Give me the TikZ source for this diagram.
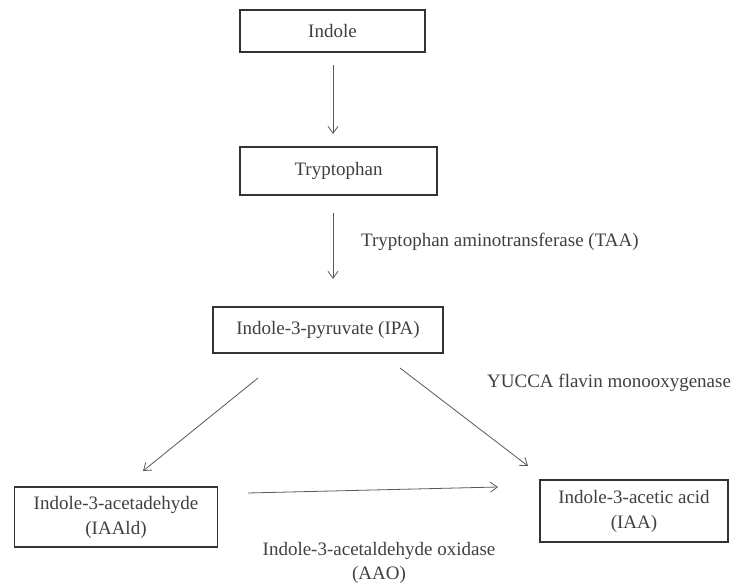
\documentclass[tikz,border=0pt]{standalone}
\usepackage{fontspec}
\setmainfont{Liberation Serif}
\usetikzlibrary{arrows.meta}
\begin{document}
\begin{tikzpicture}[x=1pt,y=-1pt,
  box/.style={draw=black!80,line width=1.8pt,inner sep=0pt,align=center,font=\fontsize{19}{25}\selectfont,text=black!75},
  lbl/.style={inner sep=0pt,align=center,font=\fontsize{19}{24}\selectfont,text=black!75},
  arr/.style={draw=black!65,line width=0.8pt,-{Straight Barb[length=7pt,width=10pt]}}]
\useasboundingbox (0,0) rectangle (734,585);
\fill[white] (0,0) rectangle (734,585);
\node[box,minimum width=185pt,minimum height=42pt] (indole) at (332.5,31) {Indole};
\node[box,minimum width=197pt,minimum height=48pt] (tryp) at (338.5,171) {Tryptophan};
\node[box,minimum width=230pt,minimum height=46pt] (ipa) at (328,330) {Indole-3-pyruvate (IPA)};
\node[box,minimum width=203pt,minimum height=60pt] (iaald) at (116,517) {Indole-3-acetadehyde\\(IAAld)};
\node[box,minimum width=188pt,minimum height=62pt] (iaa) at (634,511) {Indole-3-acetic acid\\(IAA)};
\node[lbl,anchor=west] (taa) at (361,242) {Tryptophan aminotransferase (TAA)};
\node[lbl,anchor=west] (yucca) at (487,383) {YUCCA flavin monooxygenase};
\node[lbl] (aao) at (379,563) {Indole-3-acetaldehyde oxidase\\(AAO)};
\coordinate (a1s) at (333,65); \coordinate (a1e) at (333,134);
\coordinate (a2s) at (333,213); \coordinate (a2e) at (333,279);
\coordinate (a3s) at (258,378); \coordinate (a3e) at (143,471);
\coordinate (a4s) at (400,368); \coordinate (a4e) at (528,466);
\coordinate (a5s) at (248,493); \coordinate (a5e) at (498,487);
\draw[arr] (a1s) -- (a1e);
\draw[arr] (a2s) -- (a2e);
\draw[arr] (a3s) -- (a3e);
\draw[arr] (a4s) -- (a4e);
\draw[arr] (a5s) -- (a5e);
\end{tikzpicture}
\end{document}
